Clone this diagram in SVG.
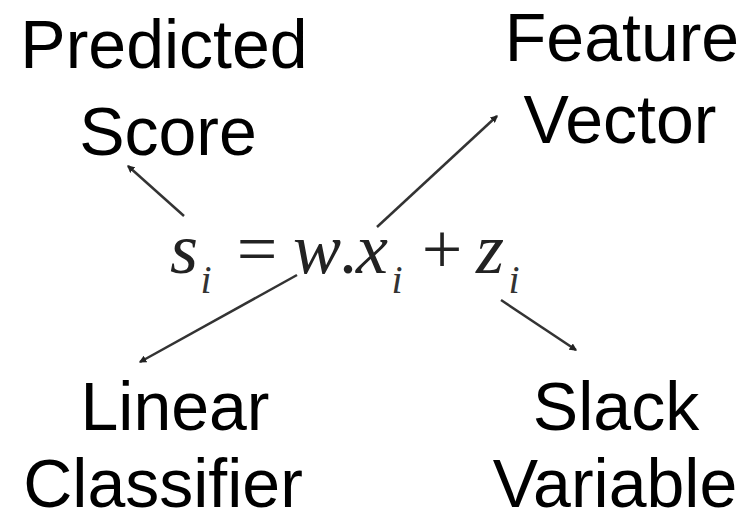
<svg xmlns="http://www.w3.org/2000/svg" width="748" height="514" viewBox="0 0 748 514">
<style>
.lbl{font-family:"Liberation Sans",Arial,sans-serif;font-size:68px;fill:#000;text-anchor:middle}
.eq{font-family:"Liberation Serif","Times New Roman",serif;font-size:72px;fill:#222;text-anchor:middle}
.it{font-style:italic}
.sub{font-size:40px;font-style:italic;fill:#333}
.con{stroke:#333;stroke-width:2.5;fill:none;marker-end:url(#ah)}
</style>
<defs>
<marker id="ah" viewBox="0 0 6 6" refX="5" refY="3" markerWidth="3" markerHeight="3" orient="auto" markerUnits="strokeWidth">
<path d="M0,0 L6,3 L0,6 z" fill="#222"/>
</marker>
</defs>
<rect width="748" height="514" fill="#fff"/>
<g id="connectors">
<line class="con" x1="184" y1="216" x2="128" y2="166"/>
<line class="con" x1="377" y1="227" x2="497" y2="116"/>
<line class="con" x1="297" y1="275" x2="140" y2="362"/>
<line class="con" x1="501" y1="300" x2="576" y2="350"/>
</g>
<g id="equation">
<text class="eq" y="273"><tspan class="it" x="184" y="273">s</tspan><tspan class="sub" x="206" y="293">i</tspan><tspan x="257" y="273">=</tspan><tspan class="it" x="317" y="273">w</tspan><tspan x="348" y="273">.</tspan><tspan class="it" x="372" y="273">x</tspan><tspan class="sub" x="397" y="293">i</tspan><tspan x="442" y="273">+</tspan><tspan class="it" x="490" y="273">z</tspan><tspan class="sub" x="514" y="293">i</tspan></text>
</g>
<g id="predicted-score">
<text class="lbl" x="164" y="68">Predicted</text>
<text class="lbl" x="168" y="155">Score</text>
</g>
<g id="feature-vector">
<text class="lbl" x="622" y="61">Feature</text>
<text class="lbl" x="620" y="143">Vector</text>
</g>
<g id="linear-classifier">
<text class="lbl" x="175" y="430">Linear</text>
<text class="lbl" x="163" y="507">Classifier</text>
</g>
<g id="slack-variable">
<text class="lbl" x="616" y="430">Slack</text>
<text class="lbl" x="615" y="507">Variable</text>
</g>
</svg>
